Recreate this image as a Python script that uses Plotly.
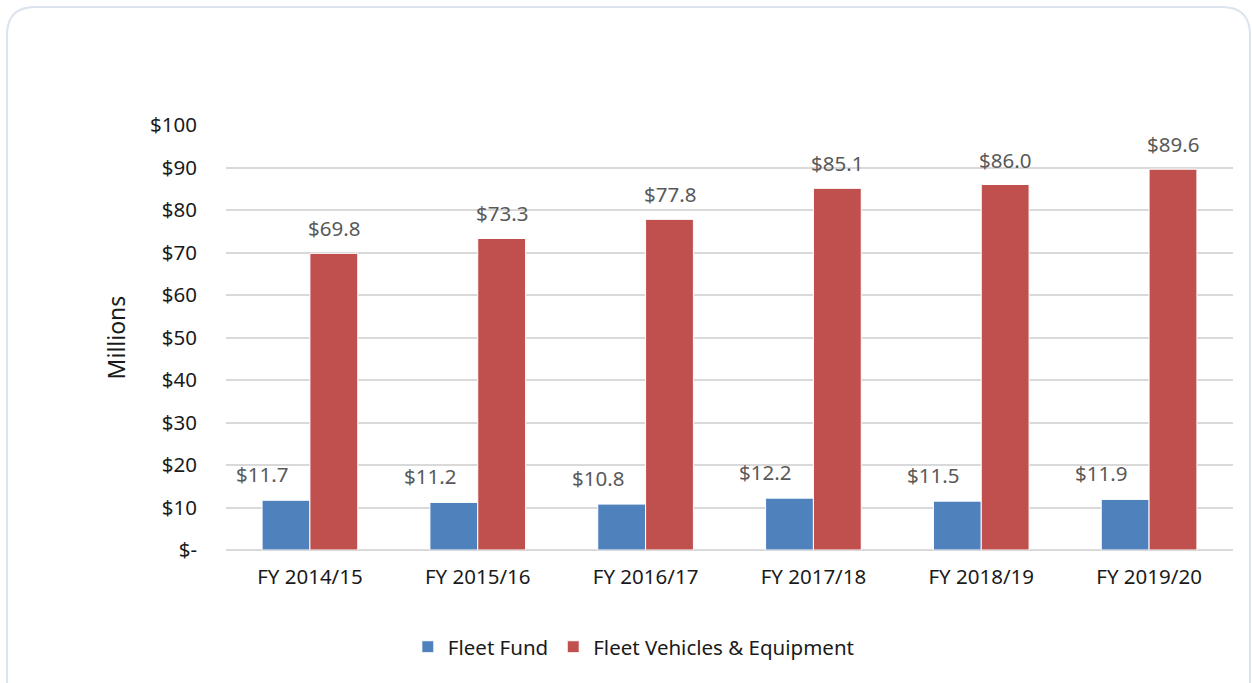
import plotly.graph_objects as go

categories = ["FY 2014/15", "FY 2015/16", "FY 2016/17", "FY 2017/18", "FY 2018/19", "FY 2019/20"]
fleet_fund = [11.7, 11.2, 10.8, 12.2, 11.5, 11.9]
fleet_vehicles = [69.8, 73.3, 77.8, 85.1, 86.0, 89.6]
y_tickvals = [0, 10, 20, 30, 40, 50, 60, 70, 80, 90, 100]
y_ticktext = ["$-", "$10", "$20", "$30", "$40", "$50", "$60", "$70", "$80", "$90", "$100"]

BLUE = "#4f81bd"
RED = "#c0504d"
FONT = "Noto Sans"
FS = 20.5

fig = go.Figure()
fig.add_trace(go.Bar(x=categories, y=fleet_fund, name="Fleet Fund",
                     marker=dict(color=BLUE, line=dict(color="white", width=1))))
fig.add_trace(go.Bar(x=categories, y=fleet_vehicles, name="Fleet Vehicles & Equipment",
                     marker=dict(color=RED, line=dict(color="white", width=1))))

for c, v in zip(categories, fleet_fund):
    fig.add_annotation(x=c, y=v, text=f"${v:.1f}", showarrow=False, xref="x", yref="y",
                       xshift=-48, yshift=26, font=dict(family=FONT, size=FS, color="#595959"))
for c, v in zip(categories, fleet_vehicles):
    fig.add_annotation(x=c, y=v, text=f"${v:.1f}", showarrow=False, xref="x", yref="y",
                       xshift=24, yshift=25, font=dict(family=FONT, size=FS, color="#595959"))

# card background with rounded corners (paper coords)
L, R, T, B = 226, 1233, 125, 550
def px(x):
    return (x - L) / (R - L)
def py(y):
    return (B - y) / (B - T)
x0, x1, y0, y1 = 7, 1250, 7, 720
r = 28
path = (f"M {px(x0)},{py(y1)} L {px(x0)},{py(y0 + r)} Q {px(x0)},{py(y0)} {px(x0 + r)},{py(y0)} "
        f"L {px(x1 - r)},{py(y0)} Q {px(x1)},{py(y0)} {px(x1)},{py(y0 + r)} L {px(x1)},{py(y1)}")
fig.add_shape(type="path", path=path, xref="paper", yref="paper",
              line=dict(color="#dae3ee", width=2), fillcolor="rgba(0,0,0,0)", layer="below")

fig.update_layout(
    width=1252, height=683,
    margin=dict(l=L, r=1252 - R, t=T, b=683 - B),
    paper_bgcolor="white", plot_bgcolor="white",
    barmode="group", bargap=0.43, bargroupgap=0.0,
    font=dict(family=FONT, size=FS, color="#1a1a1a"),
    showlegend=True,
    legend=dict(orientation="h", x=0.405, xanchor="center", y=-0.228, yanchor="middle",
                font=dict(family=FONT, size=FS, color="#1a1a1a"), itemwidth=30,
                traceorder="normal"),
    xaxis=dict(showgrid=False, showline=False, zeroline=False, ticks="",
               ticklabelstandoff=12, tickfont=dict(size=FS)),
    yaxis=dict(range=[0, 100], tickvals=y_tickvals, ticktext=y_ticktext,
               showgrid=True, gridcolor="#d9d9d9", gridwidth=2, zeroline=True,
               zerolinecolor="#d9d9d9", zerolinewidth=2, showline=False, ticks="",
               ticklabelstandoff=28, tickfont=dict(size=FS),
               title=dict(text="Millions", font=dict(size=23), standoff=18)),
)

fig.write_html("out.html")
